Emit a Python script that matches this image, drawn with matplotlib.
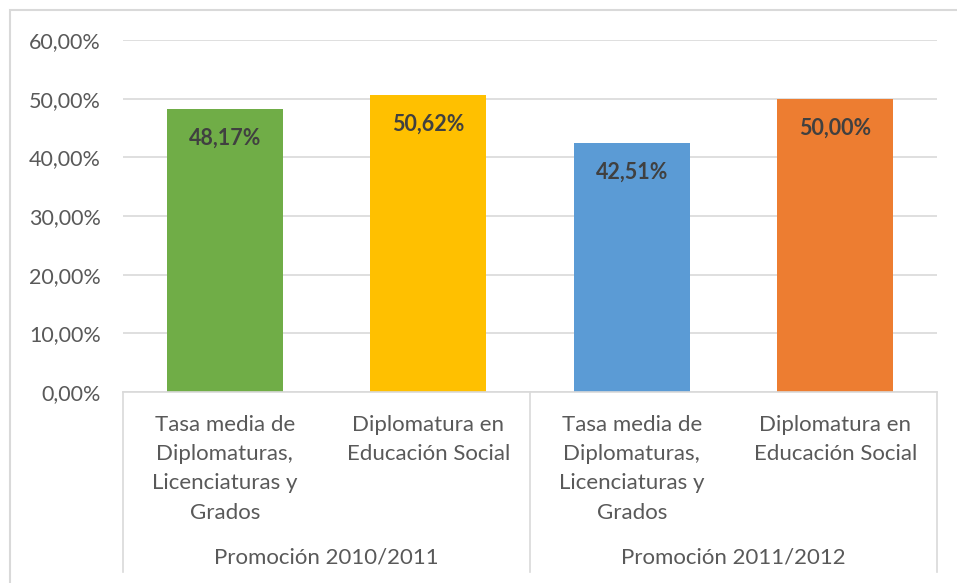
import numpy as np
import matplotlib
matplotlib.use("Agg")
import matplotlib.pyplot as plt
from matplotlib.patches import Rectangle
from matplotlib.lines import Line2D

plt.rcParams['font.family'] = ['Lato', 'DejaVu Sans']

# data
categories = ["Tasa media de\nDiplomaturas,\nLicenciaturas y\nGrados",
              "Diplomatura en\nEducación Social",
              "Tasa media de\nDiplomaturas,\nLicenciaturas y\nGrados",
              "Diplomatura en\nEducación Social"]
groups = ["Promoción 2010/2011", "Promoción 2011/2012"]
values = [48.17, 50.62, 42.51, 50.00]
colors = ["#70AD47", "#FFC000", "#5B9BD5", "#ED7D31"]
yticks = [0, 10, 20, 30, 40, 50, 60]

fig = plt.figure(figsize=(9.57, 5.83), dpi=100)
ax = fig.add_axes([123/957, 1 - 392/583, 814/957, 352/583])

x = np.arange(len(values))
ax.bar(x, values, width=0.57, color=colors, zorder=2)
for xi, v in zip(x, values):
    ax.annotate(f"{v:.2f}%".replace(".", ","), (xi, v), xytext=(0, -21),
                textcoords="offset points", ha="center", va="center",
                fontsize=15.5, fontweight="bold", color="#404040")

ax.set_xlim(-0.5, 3.5)
ax.set_ylim(0, 60)
ax.set_yticks(yticks)
ax.set_yticklabels([f"{t},00%" for t in yticks], fontsize=15.5, color="#595959")
ax.tick_params(axis="y", length=0, pad=16)
ax.set_xticks([])
ax.grid(axis="y", color="#D9D9D9", lw=1.2, zorder=0)
for s in ["left", "right", "top"]:
    ax.spines[s].set_visible(False)
ax.spines["bottom"].set_color("#D9D9D9")
ax.spines["bottom"].set_linewidth(1.2)

# category labels
for xi, c in zip(x, categories):
    ax.text(xi, -0.065, c, transform=ax.get_xaxis_transform(), ha="center", va="top",
            fontsize=16, color="#595959", linespacing=1.58)

# group labels and separators
for i, g in enumerate(groups):
    ax.text(2 * i + 0.5, -0.47, g, transform=ax.get_xaxis_transform(), ha="center",
            va="center", fontsize=16, color="#595959")
for xs in [-0.5, 1.5, 3.5]:
    ax.add_line(Line2D([xs, xs], [0, -0.51], transform=ax.get_xaxis_transform(),
                       color="#D9D9D9", lw=1.2, clip_on=False))

# outer frame
fig.patches.append(Rectangle((10/957, -0.1), 1.2, 1 - 10/583 + 0.1,
                             transform=fig.transFigure, fill=False,
                             edgecolor="#D9D9D9", lw=1.5))

fig.savefig("out.png", dpi=100)
